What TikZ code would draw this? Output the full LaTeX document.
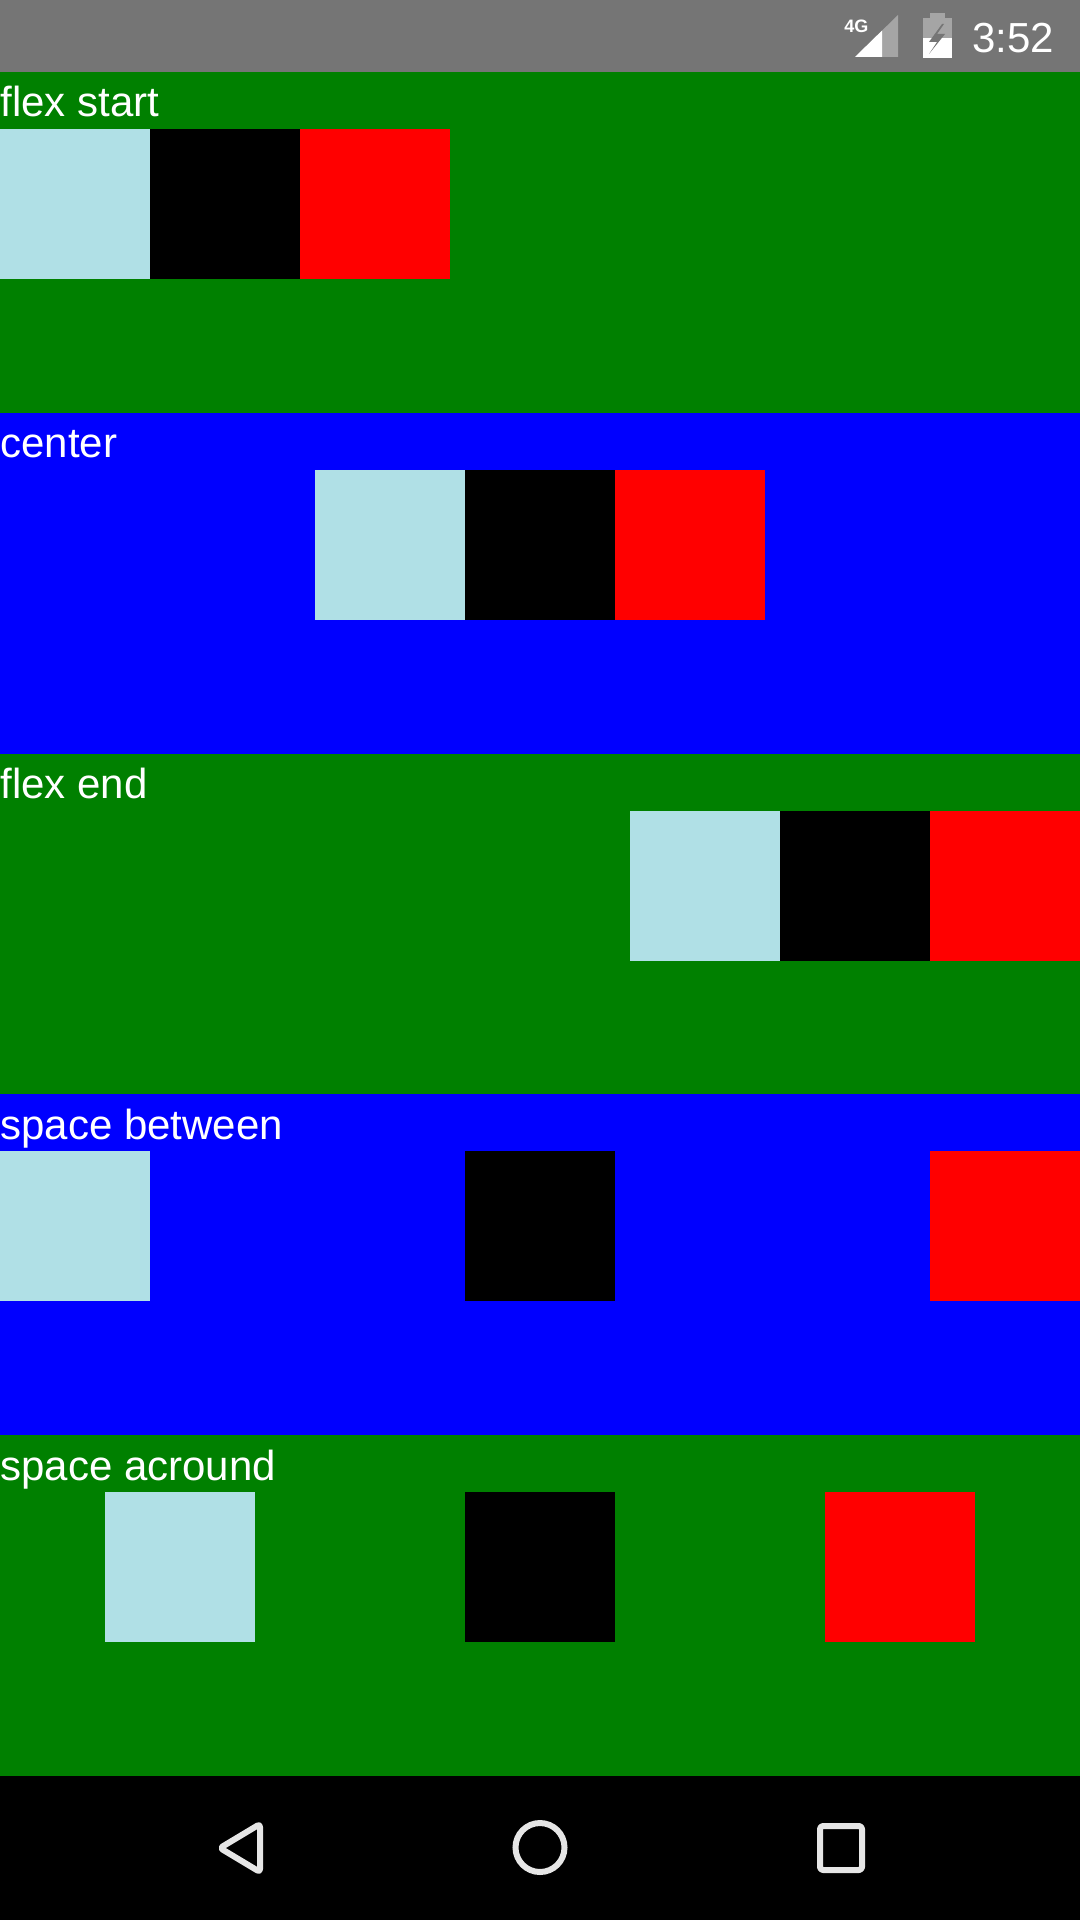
\documentclass[tikz,border=0pt]{standalone}
\usepackage{fontspec}
\setmainfont{Liberation Sans}
\definecolor{fgreen}{HTML}{008000}
\definecolor{fblue}{HTML}{0000FF}
\definecolor{pblue}{HTML}{B0E0E6}
\definecolor{fred}{HTML}{FF0000}
\definecolor{sbar}{HTML}{757575}
\definecolor{navicon}{HTML}{E6E6E6}
\begin{document}
\begin{tikzpicture}[x=0.5pt,y=-0.5pt,
  box/.style={minimum width=75pt,minimum height=75pt,inner sep=0pt,outer sep=0pt,draw=none},
  lbl/.style={anchor=base west,inner sep=0pt,text=white,font=\fontsize{21pt}{24pt}\selectfont},
  navline/.style={draw=navicon,line width=3pt,line join=round,rounded corners=1.5pt}]
\useasboundingbox (0,0) rectangle (1080,1920);
% status bar
\fill[sbar] (0,0) rectangle (1080,72);
% sections
\fill[fgreen] (0,72) rectangle (1080,412.8);
\fill[fblue] (0,412.8) rectangle (1080,753.6);
\fill[fgreen] (0,753.6) rectangle (1080,1094.4);
\fill[fblue] (0,1094.4) rectangle (1080,1435.2);
\fill[fgreen] (0,1435.2) rectangle (1080,1776);
% nav bar
\fill[black] (0,1776) rectangle (1080,1920);

% section 1: flex start
\node[lbl] (l1) at (0,117) {flex start};
\node[box,fill=pblue] (a1) at (75,204) {};
\node[box,fill=black] (b1) at (225,204) {};
\node[box,fill=fred]  (c1) at (375,204) {};
% section 2: center
\node[lbl] (l2) at (0,457.8) {center};
\node[box,fill=pblue] (a2) at (390,544.8) {};
\node[box,fill=black] (b2) at (540,544.8) {};
\node[box,fill=fred]  (c2) at (690,544.8) {};
% section 3: flex end
\node[lbl] (l3) at (0,798.6) {flex end};
\node[box,fill=pblue] (a3) at (705,885.6) {};
\node[box,fill=black] (b3) at (855,885.6) {};
\node[box,fill=fred]  (c3) at (1005,885.6) {};
% section 4: space between
\node[lbl] (l4) at (0,1139.4) {space between};
\node[box,fill=pblue] (a4) at (75,1226.4) {};
\node[box,fill=black] (b4) at (540,1226.4) {};
\node[box,fill=fred]  (c4) at (1005,1226.4) {};
% section 5: space around
\node[lbl] (l5) at (0,1480.2) {space acround};
\node[box,fill=pblue] (a5) at (180,1567.2) {};
\node[box,fill=black] (b5) at (540,1567.2) {};
\node[box,fill=fred]  (c5) at (900,1567.2) {};

% status bar icons
\node[anchor=base west,inner sep=0pt,text=white,font=\bfseries\fontsize{9pt}{10pt}\selectfont] (fg) at (844,33) {4G};
\fill[white,opacity=0.35] (855,57) -- (898,57) -- (898,15) -- cycle;
\fill[white] (855,57) -- (882,57) -- (882,30.6) -- cycle;
% battery
\fill[white,opacity=0.35] (930,13) rectangle (945,18);
\fill[white,opacity=0.35] (923,18) rectangle (952,38);
\fill[white] (923,38) rectangle (952,58);
\fill[sbar] (942,24) -- (929,42) -- (937,42) -- (929,54) -- (945,34) -- (937,34) -- (944,24) -- cycle;
\node[anchor=base west,inner sep=0pt,text=white,font=\fontsize{21pt}{24pt}\selectfont] (clock) at (972,53) {3:52};

% navigation icons
\draw[navline] (220,1848) -- (260,1824) -- (260,1872) -- cycle;
\draw[draw=navicon,line width=3pt] (540,1847.5) circle (24.5);
\draw[navline] (820,1826) rectangle (862,1870);
\end{tikzpicture}
\end{document}
